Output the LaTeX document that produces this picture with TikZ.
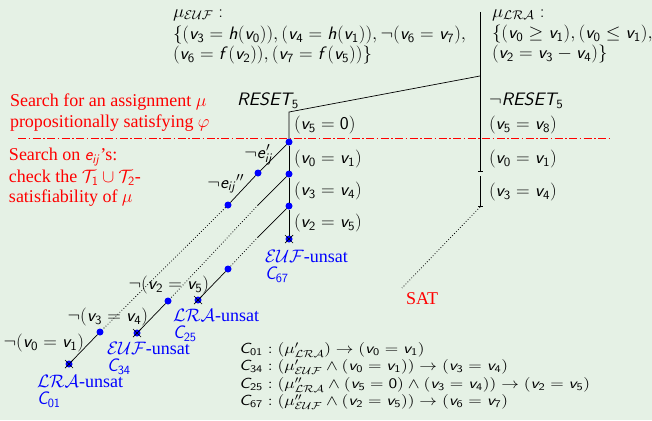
\RequirePackage{fix-cm}
\documentclass[tikz,border=0pt]{standalone}
\usepackage[no-math]{fontspec}
\usepackage{graphicx}
\newfontfamily\tf{Liberation Serif}
\usetikzlibrary{arrows.meta,shapes.misc}
\DeclareSymbolFont{sfup}{OT1}{cmss}{m}{n}
\DeclareSymbolFont{sfsl}{OT1}{cmss}{m}{sl}
\DeclareMathSymbol{0}{\mathalpha}{sfup}{`0}
\DeclareMathSymbol{1}{\mathalpha}{sfup}{`1}
\DeclareMathSymbol{2}{\mathalpha}{sfup}{`2}
\DeclareMathSymbol{3}{\mathalpha}{sfup}{`3}
\DeclareMathSymbol{4}{\mathalpha}{sfup}{`4}
\DeclareMathSymbol{5}{\mathalpha}{sfup}{`5}
\DeclareMathSymbol{6}{\mathalpha}{sfup}{`6}
\DeclareMathSymbol{7}{\mathalpha}{sfup}{`7}
\DeclareMathSymbol{8}{\mathalpha}{sfup}{`8}
\DeclareMathSymbol{9}{\mathalpha}{sfup}{`9}
\DeclareMathSymbol{v}{\mathalpha}{sfsl}{`v}
\DeclareMathSymbol{h}{\mathalpha}{sfsl}{`h}
\DeclareMathSymbol{f}{\mathalpha}{sfsl}{`f}
\DeclareMathSymbol{e}{\mathalpha}{sfsl}{`e}
\DeclareMathSymbol{i}{\mathalpha}{sfsl}{`i}
\DeclareMathSymbol{j}{\mathalpha}{sfsl}{`j}
\DeclareMathSymbol{C}{\mathalpha}{sfsl}{`C}
\DeclareMathSymbol{R}{\mathalpha}{sfsl}{`R}
\DeclareMathSymbol{E}{\mathalpha}{sfsl}{`E}
\DeclareMathSymbol{S}{\mathalpha}{sfsl}{`S}
\DeclareMathSymbol{T}{\mathalpha}{sfsl}{`T}
\definecolor{bg}{RGB}{229,241,229}
\newcommand\wid[1]{\scalebox{1.21}[1]{#1}}
\newcommand\mw[1]{\scalebox{1.05}[1]{#1}}
\tikzset{
  every node/.style={inner sep=0pt, outer sep=0pt},
  mt/.style={font=\fontsize{18}{20}\selectfont, anchor=west},
  ct/.style={font=\fontsize{14.6}{17}\selectfont, anchor=west},
  redt/.style={text=red, font=\fontsize{18}{21}\selectfont\tf, anchor=west},
  bluet/.style={text=blue, font=\fontsize{18}{17}\selectfont\tf, align=left, anchor=north west},
  bdot/.style={circle, fill=blue, minimum size=7pt},
  xdot/.style={bdot, append after command={
     (\tikzlastnode.center) +(-4,-4) edge[ln] +(4,4)
     (\tikzlastnode.center) +(-4,4) edge[ln] +(4,-4)}},
  ln/.style={line width=0.7pt, black},
  dotl/.style={line width=0.8pt, black, dotted},
  tick/.style={ln, -{Bar[width=5pt,line width=0.7pt]}},
}
\begin{document}
\begin{tikzpicture}[x=1pt,y=-1pt]
\fill[bg] (0,0) rectangle (652,420);
\useasboundingbox (0,0) rectangle (652,420);
% top theory assignments
\node[mt] (eufh) at (173,15) {\mw{$\mu_{\mathcal{EUF}}:$}};
\node[mt] (euf1) at (173,35) {\mw{$\{(v_3 = h(v_0)), (v_4 = h(v_1)), \neg(v_6 = v_7),$}};
\node[mt] (euf2) at (173,55) {\mw{$(v_6 = f(v_2)), (v_7 = f(v_5))\}$}};
\node[mt] (lrah) at (492,15) {\mw{$\mu_{\mathcal{LRA}}:$}};
\node[mt] (lra1) at (492,34) {\mw{$\{(v_0 \geq v_1), (v_0 \leq v_1),$}};
\node[mt] (lra2) at (492,54) {\mw{$(v_2 = v_3 - v_4)\}$}};
% red explanation
\node[redt] (s1) at (10,102) {Search for an assignment $\mu$};
\node[redt] (s2) at (10,123) {propositionally satisfying $\varphi$};
\node[redt] (s3) at (9,157) {Search on $e_{ij}$’s:};
\node[redt] (s4) at (9,178) {check the $\mathcal{T}_1\cup\mathcal{T}_2$-};
\node[redt] (s5) at (9,198) {satisfiability of $\mu$};
\draw[red, line width=0.8pt, dash pattern=on 8pt off 2.5pt on 1.5pt off 2.5pt] (18,138) -- (612,138);
% skeleton coordinates
\coordinate (top) at (480,12);
\coordinate (kR) at (480,76);
\coordinate (kL) at (289,112);
\coordinate (R1) at (480,172);
\coordinate (R2) at (480,176);
\coordinate (R3) at (480,207);
\coordinate (sat) at (402,288);
% left column dots
\node[bdot] (A0) at (289,142) {};
\node[bdot] (A1) at (289,174) {};
\node[bdot] (A2) at (289,206) {};
\node[xdot] (A3) at (289,239) {};
% diagonal 1
\node[bdot] (E1) at (258,173) {};
\node[bdot] (E2) at (228,205) {};
\node[bdot] (N1) at (100,332) {};
\node[xdot] (X1) at (69,364) {};
% diagonal 2
\coordinate (P2) at (258,205);
\node[bdot] (N2) at (168,301) {};
\node[xdot] (X2) at (137,333) {};
% diagonal 3
\coordinate (P3) at (258,237);
\node[bdot] (N3) at (228,269) {};
\node[xdot] (X3) at (198,300) {};
% lines
\draw[ln] (kR) -- (kL) -- (A0);
\draw[ln] (A0) -- (A1) -- (A2) -- (A3);
\draw[tick] (top) -- (R1);
\draw[tick] (R2) -- (R3);
\draw[dotl] (R3) -- (sat);
\draw[ln] (A0) -- (E1) -- (E2);
\draw[dotl] (E2) -- (N1);
\draw[ln] (N1) -- (X1);
\draw[ln] (A1) -- (P2);
\draw[dotl] (P2) -- (N2);
\draw[ln] (N2) -- (X2);
\draw[ln] (A2) -- (P3);
\draw[dotl] (P3) -- (N3);
\draw[ln] (N3) -- (X3);
% left column labels
\node[mt, anchor=center] (rs) at (268,101) {\mw{$RESET_5$}};
\node[mt] (l0) at (294,125) {\mw{$(v_5 = 0)$}};
\node[mt] (l1) at (294,159) {\mw{$(v_0 = v_1)$}};
\node[mt] (l2) at (294,191) {\mw{$(v_3 = v_4)$}};
\node[mt] (l3) at (294,223) {\mw{$(v_2 = v_5)$}};
% right column labels
\node[mt] (nrs) at (489,101) {\mw{$\neg RESET_5$}};
\node[mt] (r0) at (489,125) {\mw{$(v_5 = v_8)$}};
\node[mt] (r1) at (489,159) {\mw{$(v_0 = v_1)$}};
\node[mt] (r2) at (489,192) {\mw{$(v_3 = v_4)$}};
\node[redt] (satl) at (406,299) {SAT};
% diagonal labels
\node[mt, anchor=east] (le1) at (273,155) {\mw{$\neg e'_{ij}$}};
\node[mt, anchor=east] (le2) at (244,184) {\mw{$\neg e_{ij}{}''$}};
\node[mt, anchor=east] (ln1) at (84,343) {\mw{$\neg(v_0 = v_1)$}};
\node[mt, anchor=east] (ln2) at (148,317) {\mw{$\neg(v_3 = v_4)$}};
\node[mt, anchor=east] (ln3) at (209,285) {\mw{$\neg(v_2 = v_5)$}};
% unsat labels
\node[bluet] (u67) at (265,250) {$\mathcal{EUF}$-unsat\\$C_{67}$};
\node[bluet] (u01) at (37,375) {$\mathcal{LRA}$-unsat\\$C_{01}$};
\node[bluet] (u34) at (107,342) {$\mathcal{EUF}$-unsat\\$C_{34}$};
\node[bluet] (u25) at (173,309) {$\mathcal{LRA}$-unsat\\$C_{25}$};
% clauses
\node[ct] (c1) at (239,350) {\wid{$C_{01} : (\mu'_{\mathcal{LRA}}) \to (v_0 = v_1)$}};
\node[ct] (c2) at (239,367) {\wid{$C_{34} : (\mu'_{\mathcal{EUF}} \wedge (v_0 = v_1)) \to (v_3 = v_4)$}};
\node[ct] (c3) at (239,385) {\wid{$C_{25} : (\mu''_{\mathcal{LRA}} \wedge (v_5 = 0) \wedge (v_3 = v_4)) \to (v_2 = v_5)$}};
\node[ct] (c4) at (239,402) {\wid{$C_{67} : (\mu''_{\mathcal{EUF}} \wedge (v_2 = v_5)) \to (v_6 = v_7)$}};
\end{tikzpicture}
\end{document}
